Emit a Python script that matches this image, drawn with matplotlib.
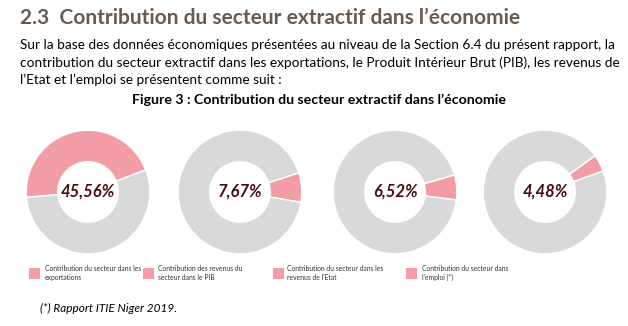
import matplotlib
matplotlib.use("Agg")
import matplotlib.pyplot as plt

plt.rcParams['font.family'] = ['Lato', 'DejaVu Sans']

W, H = 628, 326

# donnees
valeurs = [45.56, 7.67, 6.52, 4.48]
etiquettes = ["45,56%", "7,67%", "6,52%", "4,48%"]
legendes = [
    "Contribution du secteur dans les\nexportations",
    "Contribution des revenus du\nsecteur dans le PIB",
    "Contribution du secteur dans les\nrevenus de l'Etat",
    "Contribution du secteur dans\nl'emploi (*)",
]
angles_depart = [185, 18, 16, 36]

titre = "2.3  Contribution du secteur extractif dans l\u2019économie"
paragraphe = [
    "Sur la base des données économiques présentées au niveau de la Section 6.4 du présent rapport, la",
    "contribution du secteur extractif dans les exportations, le Produit Intérieur Brut (PIB), les revenus de",
    "l\u2019Etat et l\u2019emploi se présentent comme suit :",
]
legende_fig = "Figure 3 : Contribution du secteur extractif dans l\u2019économie"
source = "(*) Rapport ITIE Niger 2019."

rose = "#F29CA6"
gris = "#D9D9D9"
bordeaux = "#4A0A12"

fig = plt.figure(figsize=(W / 100, H / 100), dpi=100)
fig.patch.set_facecolor("white")


def px(x, y):
    return x / W, 1 - y / H


fig.text(*px(20, 18), titre, fontsize=15, fontweight="bold", color="#6B5A4E", va="center", ha="left")
for i, ligne in enumerate(paragraphe):
    fig.text(*px(20, 45 + i * 17.5), ligne, fontsize=9.78, color="black", va="center", ha="left")
fig.text(*px(319, 100), legende_fig, fontsize=10.2, fontweight="bold", color="black", va="center", ha="center")

centres = [88, 240, 395, 545]
rayon = 63
cy = 192
for k in range(4):
    x0, y0 = px(centres[k] - rayon, cy + rayon)
    ax = fig.add_axes([x0, y0, 2 * rayon / W, 2 * rayon / H])
    ax.pie([valeurs[k], 100 - valeurs[k]], colors=[rose, gris], startangle=angles_depart[k],
           counterclock=False, radius=1,
           wedgeprops=dict(width=0.51, edgecolor="white", linewidth=1))
    ax.set_xlim(-1.02, 1.02)
    ax.set_ylim(-1.02, 1.02)
    ax.set_aspect("equal")
    ax.axis("off")
    ax.text(0, 0, etiquettes[k], ha="center", va="center", fontsize=12,
            fontweight="bold", fontstyle="italic", color=bordeaux)

pos_leg = [(29, 45), (143, 158), (273, 287), (406, 422)]
for k in range(4):
    xc, xt = pos_leg[k]
    fig.patches.append(plt.Rectangle(px(xc, 279), 11 / W, 11 / H, transform=fig.transFigure,
                                     facecolor=rose, edgecolor="none"))
    fig.text(*px(xt, 273), legendes[k], fontsize=4.9, color="#333333", va="center", ha="left",
             linespacing=1.35)

fig.text(*px(40, 308), source, fontsize=8.5, fontstyle="italic", color="black", va="center", ha="left")

fig.savefig("out.png", dpi=100)
